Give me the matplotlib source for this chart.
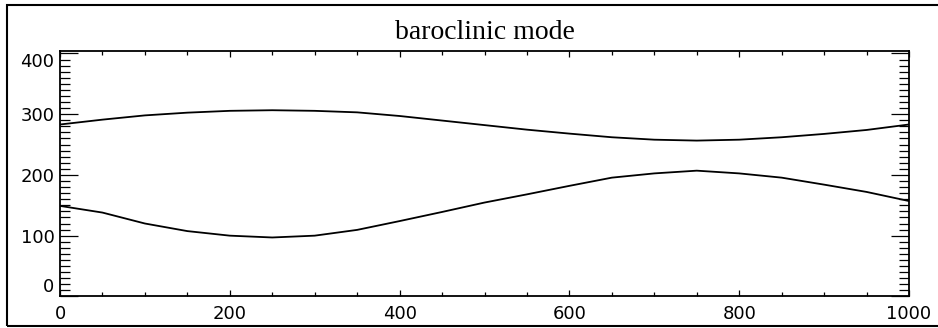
import matplotlib.pyplot as plt
from matplotlib.patches import Rectangle
from matplotlib.ticker import MultipleLocator

# values
x_pos = [0, 50, 100, 150, 200, 250, 300, 350, 400, 450, 500,
         550, 600, 650, 700, 750, 800, 850, 900, 950, 1000]
upper = [283, 291, 298, 302.5, 305.5, 306.5, 305.5, 303, 297, 289.5, 282,
         274.5, 268, 262, 258, 256.5, 258, 262, 267.5, 274, 283]
lower = [149, 138, 120, 107.5, 100, 97, 100, 109.5, 124, 139, 154.5,
         168, 182, 195.5, 202.5, 207, 202.5, 195.5, 184, 172, 157]
y_ticks = [0, 100, 200, 300, 400]
title = "baroclinic mode"

W, H = 938, 328
fig = plt.figure(figsize=(W / 100, H / 100), dpi=100)
ax = fig.add_axes([60 / W, (H - 296.4) / H, 849 / W, 245.4 / H])

ax.plot(x_pos, upper, color='k', lw=1.3)
ax.plot(x_pos, lower, color='k', lw=1.3)

ax.set_xlim(0, 1000)
ax.set_ylim(0, 404)
ax.xaxis.set_major_locator(MultipleLocator(200))
ax.xaxis.set_minor_locator(MultipleLocator(50))
ax.set_yticks(y_ticks)
ax.yaxis.set_minor_locator(MultipleLocator(10))

ax.tick_params(which='both', direction='in', top=True, right=True,
               labelsize=13, colors='k', width=0.9)
ax.tick_params(axis='x', which='major', length=4.5, pad=6)
ax.tick_params(axis='x', which='minor', length=3)
ax.tick_params(axis='y', which='major', length=13, pad=4)
ax.tick_params(axis='y', which='minor', length=7)
for s in ax.spines.values():
    s.set_linewidth(1.3)

# IDL keeps the end labels inside the axis range
yt = ax.yaxis.get_major_ticks()
yt[0].label1.set_va('bottom')
yt[-1].label1.set_va('top')

fig.text(484.5 / W, 1 - 39 / H, title, ha='center', va='baseline',
         family='Liberation Serif', fontsize=20)

# outer frame of the picture
fig.patches.append(Rectangle((7 / W, 2 / H), 1.0, 1 - 7 / H, transform=fig.transFigure,
                             fill=False, ec='k', lw=1.5))

fig.savefig('out.png', dpi=100)
